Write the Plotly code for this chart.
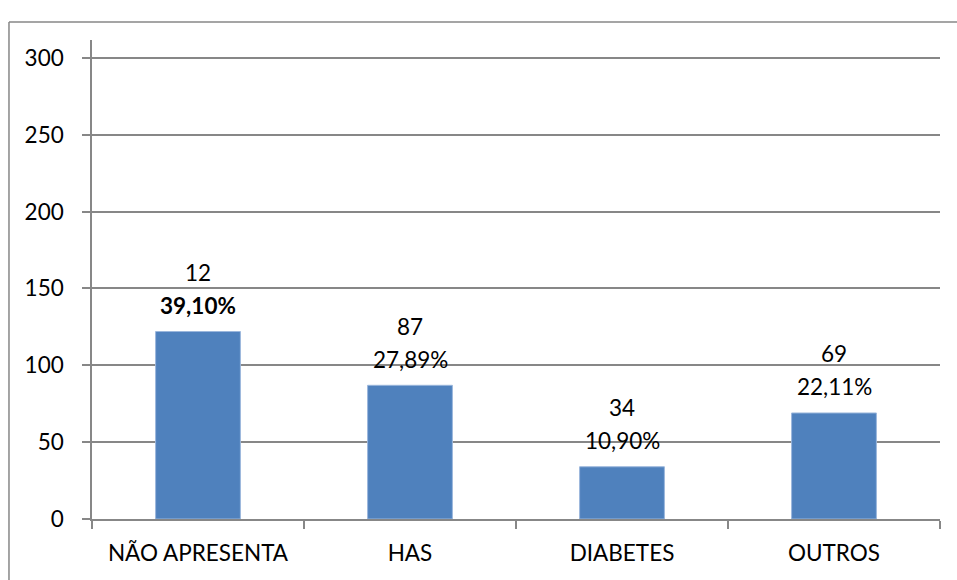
import plotly.graph_objects as go

categories = ["NÃO APRESENTA", "HAS", "DIABETES", "OUTROS"]
values = [122, 87, 34, 69]
count_labels = ["12", "87", "34", "69"]
pct_labels = ["<b>39,10%</b>", "27,89%", "10,90%", "22,11%"]
y_ticks = [0, 50, 100, 150, 200, 250, 300]

FONT = "Lato"
FS = 22.5
GRAY = "#878787"

fig = go.Figure()
fig.add_trace(go.Bar(
    x=categories, y=values,
    marker=dict(color="#4F81BD", line=dict(color="#9bb7dc", width=1)),
    width=0.4,
    hoverinfo="skip",
))

annotations = []
for c, v, n, p in zip(categories, values, count_labels, pct_labels):
    annotations.append(dict(x=c, y=v, text=p, showarrow=False, yanchor="middle",
                            yshift=26, font=dict(family=FONT, size=FS, color="black")))
    annotations.append(dict(x=c, y=v, text=n, showarrow=False, yanchor="middle",
                            yshift=59, font=dict(family=FONT, size=FS, color="black")))

# outer chart-area border (left and top edges visible)
shapes = [
    dict(type="line", xref="paper", yref="paper", x0=-0.0979, x1=-0.0979, y0=1.0376, y1=-0.14,
         line=dict(color=GRAY, width=1.5)),
    dict(type="line", xref="paper", yref="paper", x0=-0.0979, x1=1.05, y0=1.0376, y1=1.0376,
         line=dict(color=GRAY, width=1.5)),
]

fig.update_layout(
    width=957, height=580,
    margin=dict(l=92, r=17, t=40, b=61),
    paper_bgcolor="white", plot_bgcolor="white",
    showlegend=False,
    font=dict(family=FONT, size=FS, color="black"),
    annotations=annotations,
    shapes=shapes,
    xaxis=dict(
        showline=True, linecolor=GRAY, linewidth=1.5,
        ticks="outside", ticklen=8, tickcolor=GRAY, tickwidth=1.5,
        tickson="boundaries", showgrid=False,
        ticklabelstandoff=13,
        tickfont=dict(family=FONT, size=FS, color="black"),
    ),
    yaxis=dict(
        range=[0, 311.7],
        tickvals=y_ticks,
        showline=True, linecolor=GRAY, linewidth=1.5,
        ticks="outside", ticklen=8, tickcolor=GRAY, tickwidth=1.5,
        showgrid=True, gridcolor=GRAY, gridwidth=1.5,
        zeroline=False,
        ticklabelstandoff=14,
        tickfont=dict(family=FONT, size=FS, color="black"),
    ),
)

fig.write_html("out.html")
